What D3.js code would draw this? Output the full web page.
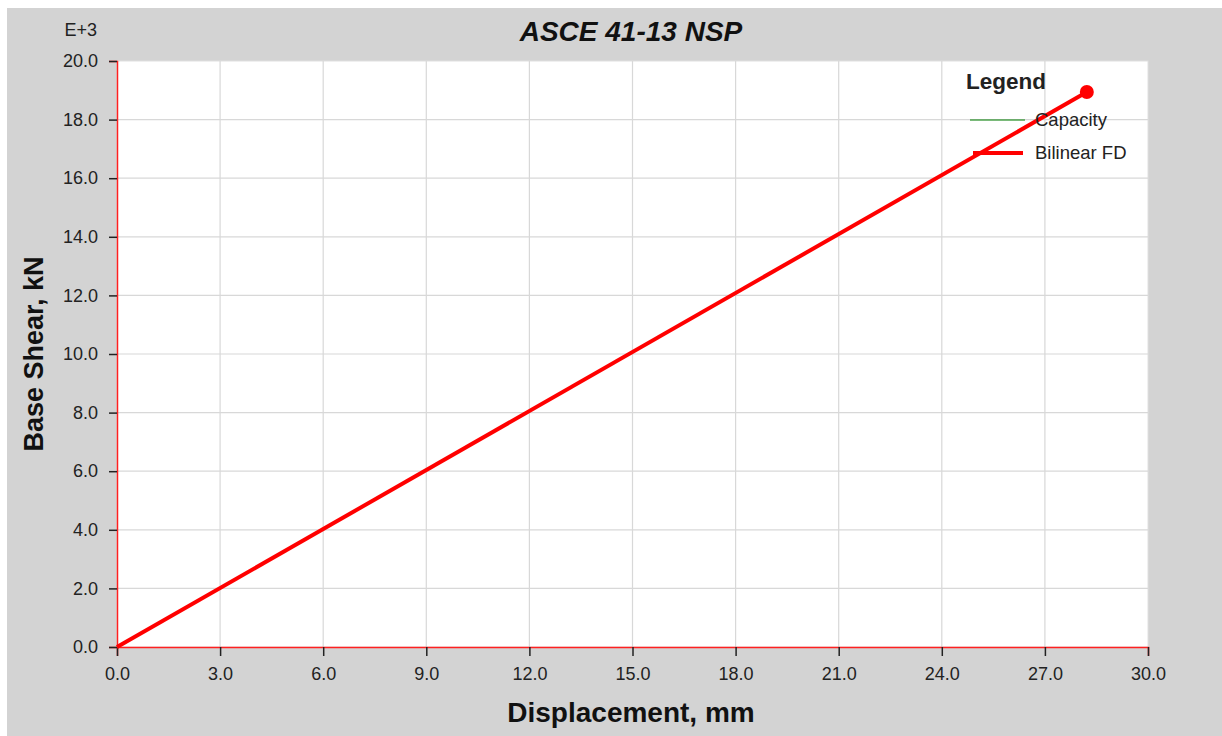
<!DOCTYPE html>
<html>
<head>
<meta charset="utf-8">
<script src="https://cdn.jsdelivr.net/npm/d3@7"></script>
<style>
  html, body { margin: 0; padding: 0; background: #fff; }
  svg { display: block; }
</style>
</head>
<body>
<div id="chart"></div>
<script>
// Pushover curve data (displacement mm, base shear kN x 1e3)
const capacityDisp = [0, 28.22];
const capacityShear = [0, 18.94];
const bilinearDisp = [0, 28.22];
const bilinearShear = [0, 18.94];
const xTicks = [0, 3, 6, 9, 12, 15, 18, 21, 24, 27, 30];
const yTicks = [0, 2, 4, 6, 8, 10, 12, 14, 16, 18, 20];

const W = 1222, H = 736;
const M = {t: 61, r: 74, b: 89, l: 117};
const FONT = "'Liberation Sans', Arial, sans-serif";

const svg = d3.select('#chart').append('svg').attr('width', W).attr('height', H);

// grey panel with white margin strip at top / left
svg.append('rect').attr('x', 7).attr('y', 8).attr('width', W - 7).attr('height', H - 8).attr('fill', '#d3d3d3');

const x = d3.scaleLinear().domain([0, 30]).range([M.l, W - M.r]);
const y = d3.scaleLinear().domain([0, 20]).range([H - M.b, M.t]);

// plot background
svg.append('rect')
  .attr('x', x(0)).attr('y', y(20))
  .attr('width', x(30) - x(0)).attr('height', y(0) - y(20))
  .attr('fill', '#fff').attr('stroke', '#e0e0e0');

// grid
svg.append('g').selectAll('line').data(xTicks.slice(1, -1)).enter().append('line')
  .attr('x1', d => x(d)).attr('x2', d => x(d))
  .attr('y1', y(0)).attr('y2', y(20))
  .attr('stroke', '#d8d8d8').attr('stroke-width', 1.2);
svg.append('g').selectAll('line').data(yTicks.slice(1, -1)).enter().append('line')
  .attr('x1', x(0)).attr('x2', x(30))
  .attr('y1', d => y(d)).attr('y2', d => y(d))
  .attr('stroke', '#d8d8d8').attr('stroke-width', 1.2);

// axes
const xAxis = svg.append('g')
  .attr('transform', `translate(0, ${y(0)})`)
  .call(d3.axisBottom(x).tickValues(xTicks).tickFormat(d3.format('.1f')).tickSizeOuter(0).tickSize(9).tickPadding(11));
const yAxis = svg.append('g')
  .attr('transform', `translate(${x(0)}, 0)`)
  .call(d3.axisLeft(y).tickValues(yTicks).tickFormat(d3.format('.1f')).tickSizeOuter(0).tickSize(8).tickPadding(11));

[xAxis, yAxis].forEach(a => {
  a.attr('font-size', null).attr('font-family', null);
  a.select('.domain').attr('stroke', '#ff2020').attr('stroke-width', 1.5);
  a.selectAll('.tick line').attr('stroke', '#222').attr('stroke-width', 1.5);
  a.selectAll('.tick text')
    .style('fill', '#222').style('font-size', '18px').style('font-family', FONT);
});

// series
const line = d3.line().x(d => x(d[0])).y(d => y(d[1]));
const capacity = capacityDisp.map((d, i) => [d, capacityShear[i]]);
const bilinear = bilinearDisp.map((d, i) => [d, bilinearShear[i]]);

svg.append('path').datum(capacity)
  .attr('d', line).attr('fill', 'none').attr('stroke', '#008000').attr('stroke-width', 1);
svg.append('path').datum(bilinear)
  .attr('d', line).attr('fill', 'none').attr('stroke', '#ff0000').attr('stroke-width', 4);
const last = bilinear[bilinear.length - 1];
svg.append('circle')
  .attr('cx', x(last[0])).attr('cy', y(last[1])).attr('r', 7).attr('fill', '#ff0000');

// title and labels
svg.append('text')
  .attr('x', 631).attr('y', 41)
  .attr('text-anchor', 'middle')
  .style('font-family', FONT).style('font-size', '28px')
  .style('font-weight', 700).style('font-style', 'italic')
  .style('fill', '#111')
  .text('ASCE 41-13 NSP');

svg.append('text')
  .attr('x', 97).attr('y', 36)
  .attr('text-anchor', 'end')
  .style('font-family', FONT).style('font-size', '18px')
  .style('fill', '#222')
  .text('E+3');

svg.append('text')
  .attr('x', 631).attr('y', 722)
  .attr('text-anchor', 'middle')
  .style('font-family', FONT).style('font-size', '28px').style('font-weight', 700)
  .style('fill', '#111')
  .text('Displacement, mm');

svg.append('text')
  .attr('transform', `translate(43, ${(y(0) + y(20)) / 2}) rotate(-90)`)
  .attr('text-anchor', 'middle')
  .style('font-family', FONT).style('font-size', '27px').style('font-weight', 700)
  .style('fill', '#111')
  .text('Base Shear, kN');

// legend
const legend = svg.append('g').attr('transform', 'translate(966, 0)');
legend.append('text')
  .attr('x', 0).attr('y', 89)
  .style('font-family', FONT).style('font-size', '22.5px').style('font-weight', 700)
  .style('fill', '#222')
  .text('Legend');
const items = [
  {name: 'Capacity', color: '#008000', w: 1.2, y: 120, x1: 4, x2: 59},
  {name: 'Bilinear FD', color: '#ff0000', w: 4, y: 153, x1: 7, x2: 57}
];
items.forEach(it => {
  legend.append('line')
    .attr('x1', it.x1).attr('x2', it.x2).attr('y1', it.y).attr('y2', it.y)
    .attr('stroke', it.color).attr('stroke-width', it.w);
  legend.append('text')
    .attr('x', 69).attr('y', it.y + 6)
    .style('font-family', FONT).style('font-size', '18.5px')
    .style('fill', '#222')
    .text(it.name);
});
</script>
</body>
</html>
